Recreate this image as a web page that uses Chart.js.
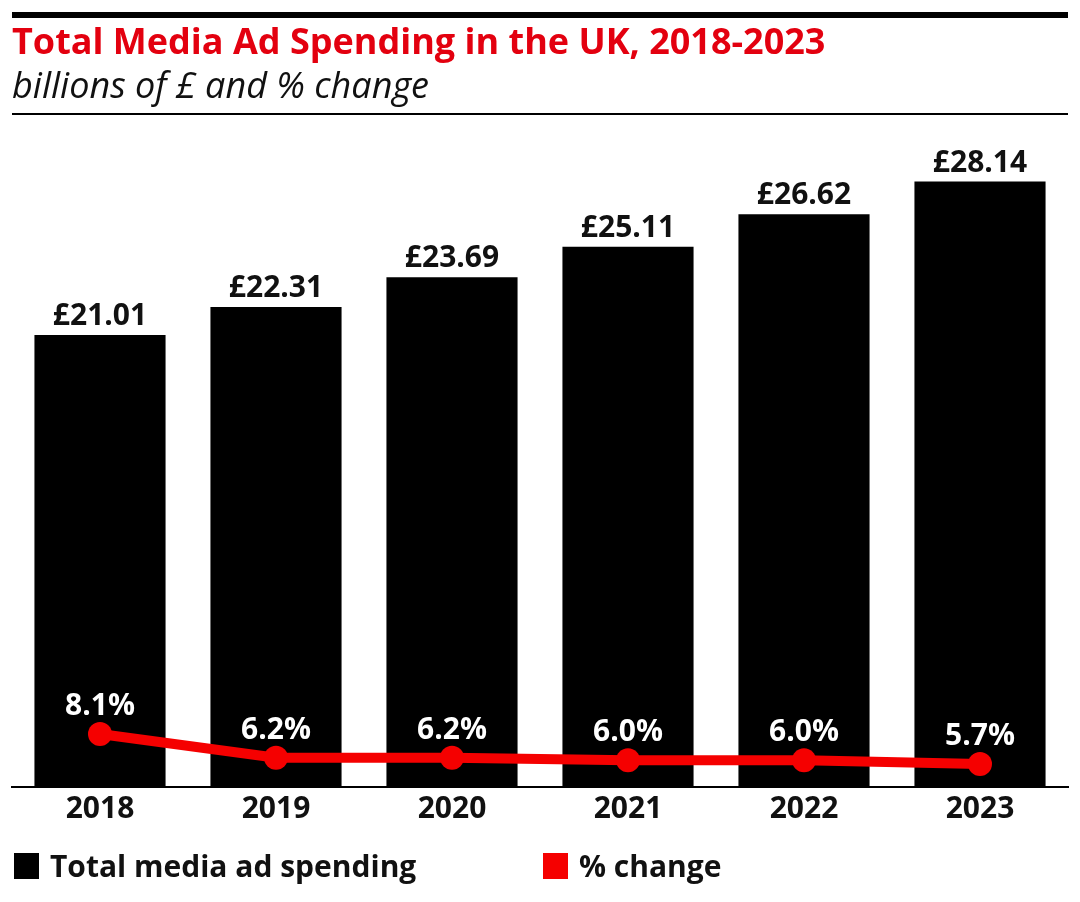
<!DOCTYPE html>
<html>
<head>
<meta charset="utf-8">
<script src="https://cdn.jsdelivr.net/npm/chart.js@4/dist/chart.umd.min.js"></script>
<style>
  html, body { margin: 0; padding: 0; background: #fff; }
  #wrap { position: relative; width: 1080px; height: 902px; }
  canvas { position: absolute; left: 0; top: 0; }
  .legend { position: absolute; top: 845px; font-family: "Open Sans", sans-serif; font-weight: 700; font-size: 30px; color: #111; display: flex; align-items: center; }
  .legend .box { width: 25px; height: 26px; margin-right: 11px; }
</style>
</head>
<body>
<div id="wrap">
  <canvas id="c" width="1080" height="902"></canvas>
  <div class="legend" style="left:14px;"><span class="box" style="background:#000"></span>Total media ad spending</div>
  <div class="legend" style="left:543px;"><span class="box" style="background:#f50000"></span>% change</div>
</div>
<script>
const titleText = "Total Media Ad Spending in the UK, 2018-2023";
const subtitleText = "billions of £ and % change";
const categories = ["2018", "2019", "2020", "2021", "2022", "2023"];
const spending = [21.01, 22.31, 23.69, 25.11, 26.62, 28.14];
const spendingLabels = ["£21.01", "£22.31", "£23.69", "£25.11", "£26.62", "£28.14"];
const pctChange = [8.1, 6.2, 6.2, 6.0, 6.0, 5.7];
const pctLabels = ["8.1%", "6.2%", "6.2%", "6.0%", "6.0%", "5.7%"];

const FONT = '"Open Sans", sans-serif';

const headerPlugin = {
  id: 'header',
  beforeDraw(chart) {
    const ctx = chart.ctx;
    ctx.save();
    ctx.fillStyle = '#000';
    ctx.fillRect(12, 12, 1056, 6);
    ctx.fillRect(12, 113, 1056, 2);
    ctx.textAlign = 'left';
    ctx.textBaseline = 'alphabetic';
    ctx.fillStyle = '#e3000f';
    ctx.font = '700 36px ' + FONT;
    ctx.fillText(titleText, 12, 54);
    ctx.fillStyle = '#111';
    ctx.font = 'italic 400 36px ' + FONT;
    ctx.fillText(subtitleText, 12, 98);
    ctx.restore();
  }
};

const labelPlugin = {
  id: 'valueLabels',
  afterDatasetsDraw(chart) {
    const ctx = chart.ctx;
    ctx.save();
    ctx.textAlign = 'center';
    ctx.textBaseline = 'alphabetic';
    ctx.font = '700 30px ' + FONT;
    const barMeta = chart.getDatasetMeta(0);
    barMeta.data.forEach((el, i) => {
      ctx.fillStyle = '#111';
      ctx.fillText(spendingLabels[i], el.x, el.y - 10);
    });
    const lineMeta = chart.getDatasetMeta(1);
    lineMeta.data.forEach((el, i) => {
      ctx.fillStyle = '#fff';
      ctx.fillText(pctLabels[i], el.x, el.y - 19);
    });
    ctx.restore();
  }
};

new Chart(document.getElementById('c'), {
  data: {
    labels: categories,
    datasets: [
      {
        type: 'bar',
        label: 'Total media ad spending',
        data: spending,
        backgroundColor: '#000',
        yAxisID: 'y',
        order: 2,
        categoryPercentage: 1.0,
        barPercentage: 0.745
      },
      {
        type: 'line',
        label: '% change',
        data: pctChange,
        borderColor: '#f50000',
        backgroundColor: '#f50000',
        borderWidth: 10,
        pointRadius: 12,
        pointHoverRadius: 12,
        pointBackgroundColor: '#f50000',
        pointBorderWidth: 0,
        yAxisID: 'y2',
        order: 1,
        tension: 0
      }
    ]
  },
  options: {
    responsive: false,
    animation: false,
    layout: { padding: { left: 12, right: 12, top: 120, bottom: 71 } },
    plugins: {
      legend: { display: false },
      tooltip: { enabled: false }
    },
    scales: {
      x: {
        grid: { display: false, drawTicks: false },
        border: { display: true, color: '#000', width: 2 },
        ticks: { color: '#111', font: { family: FONT, weight: '700', size: 30 }, padding: 4 }
      },
      y: { display: false, min: 0, max: 31 },
      y2: { display: false, min: 3.86, max: 57.14, position: 'right' }
    }
  },
  plugins: [headerPlugin, labelPlugin]
});
</script>
</body>
</html>
